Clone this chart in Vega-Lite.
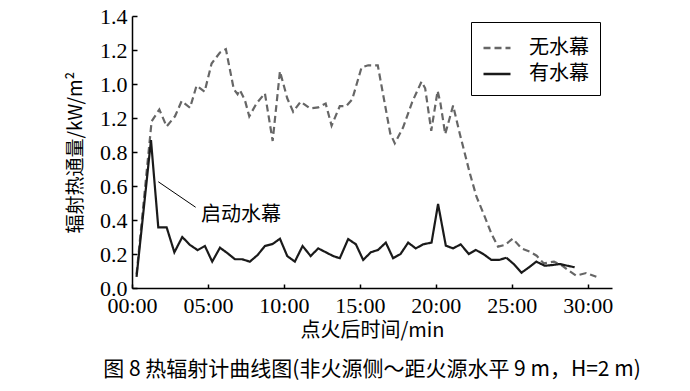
{
  "$schema": "https://vega.github.io/schema/vega-lite/v6.json",
  "width": 480,
  "height": 272,
  "autosize": "none",
  "padding": {"left": 132, "top": 16, "right": 78, "bottom": 103},
  "background": "white",
  "config": {
    "view": {"stroke": null},
    "font": "'Liberation Serif', 'DejaVu Serif', serif",
    "axis": {"grid": false, "domainColor": "black", "tickColor": "black", "labelColor": "black", "titleColor": "black", "titleFontWeight": "normal"}
  },
  "title": {
    "text": "图 8   热辐射计曲线图(非火源侧～距火源水平 9 m，H=2 m)",
    "orient": "bottom",
    "anchor": "middle",
    "font": "Noto Sans CJK SC",
    "fontSize": 21,
    "fontWeight": "normal",
    "color": "black",
    "offset": 19
  },
  "encoding": {
    "x": {
      "field": "t",
      "type": "quantitative",
      "scale": {"domain": [0, 31.6], "nice": false, "zero": false},
      "axis": {
        "values": [0, 5, 10, 15, 20, 25, 30],
        "labelExpr": "(datum.value < 10 ? '0' : '') + datum.value + ':00'",
        "title": "点火后时间/min",
        "titleFont": "Noto Sans CJK SC",
        "titleFontSize": 20,
        "titlePadding": 4,
        "labelFont": "'Liberation Serif', 'DejaVu Serif', serif",
        "labelFontSize": 22,
        "tickSize": -4,
        "labelPadding": 11,
        "domainWidth": 1.5,
        "tickWidth": 1.5,
        "labelFlush": false
      }
    },
    "y": {
      "field": "v",
      "type": "quantitative",
      "scale": {"domain": [0, 1.6], "nice": false},
      "axis": {
        "values": [0, 0.2, 0.4, 0.6, 0.8, 1.0, 1.2, 1.4, 1.6],
        "labelExpr": "datum.value > 1.55 ? '1.4' : datum.value > 1.35 ? '1.2' : datum.value > 1.15 ? '1.0' : datum.value > 0.95 ? '1.2' : format(datum.value, '.1f')",
        "title": "辐射热通量/kW/m²",
        "titleFont": "Noto Sans CJK SC",
        "titleFontSize": 19,
        "titlePadding": 14,
        "labelFont": "'Liberation Serif', 'DejaVu Serif', serif",
        "labelFontSize": 22,
        "tickSize": -5,
        "labelPadding": 10,
        "domainWidth": 1.5,
        "tickWidth": 1.5,
        "labelFlush": false
      }
    }
  },
  "layer": [
    {
      "data": {
        "values": [
          {"series": "无水幕", "t": 0.3, "v": 0.08},
          {"series": "无水幕", "t": 1.29, "v": 0.98},
          {"series": "无水幕", "t": 1.8, "v": 1.05},
          {"series": "无水幕", "t": 2.28, "v": 0.95},
          {"series": "无水幕", "t": 2.83, "v": 1.01},
          {"series": "无水幕", "t": 3.27, "v": 1.1},
          {"series": "无水幕", "t": 3.82, "v": 1.06},
          {"series": "无水幕", "t": 4.25, "v": 1.19},
          {"series": "无水幕", "t": 4.78, "v": 1.155},
          {"series": "无水幕", "t": 5.24, "v": 1.32},
          {"series": "无水幕", "t": 5.79, "v": 1.385},
          {"series": "无水幕", "t": 6.18, "v": 1.405},
          {"series": "无水幕", "t": 6.7, "v": 1.17},
          {"series": "无水幕", "t": 6.95, "v": 1.14},
          {"series": "无水幕", "t": 7.1, "v": 1.165},
          {"series": "无水幕", "t": 7.43, "v": 1.106},
          {"series": "无水幕", "t": 7.72, "v": 1.01},
          {"series": "无水幕", "t": 8.2, "v": 1.086},
          {"series": "无水幕", "t": 8.75, "v": 1.145},
          {"series": "无水幕", "t": 9.26, "v": 0.865},
          {"series": "无水幕", "t": 9.74, "v": 1.275},
          {"series": "无水幕", "t": 10.22, "v": 1.116},
          {"series": "无水幕", "t": 10.61, "v": 1.037},
          {"series": "无水幕", "t": 11.1, "v": 1.096},
          {"series": "无水幕", "t": 11.71, "v": 1.057},
          {"series": "无水幕", "t": 12.26, "v": 1.062},
          {"series": "无水幕", "t": 12.75, "v": 1.085},
          {"series": "无水幕", "t": 13.14, "v": 0.955},
          {"series": "无水幕", "t": 13.68, "v": 1.07},
          {"series": "无水幕", "t": 14.1, "v": 1.07},
          {"series": "无水幕", "t": 14.5, "v": 1.11},
          {"series": "无水幕", "t": 15.11, "v": 1.297},
          {"series": "无水幕", "t": 15.55, "v": 1.31},
          {"series": "无水幕", "t": 16.18, "v": 1.31},
          {"series": "无水幕", "t": 17.0, "v": 0.91},
          {"series": "无水幕", "t": 17.3, "v": 0.851},
          {"series": "无水幕", "t": 17.85, "v": 0.945},
          {"series": "无水幕", "t": 18.45, "v": 1.095},
          {"series": "无水幕", "t": 19.06, "v": 1.214},
          {"series": "无水幕", "t": 19.3, "v": 1.175},
          {"series": "无水幕", "t": 19.7, "v": 0.925},
          {"series": "无水幕", "t": 20.12, "v": 1.16},
          {"series": "无水幕", "t": 20.3, "v": 1.09},
          {"series": "无水幕", "t": 20.62, "v": 0.905},
          {"series": "无水幕", "t": 21.14, "v": 1.073},
          {"series": "无水幕", "t": 21.6, "v": 0.9},
          {"series": "无水幕", "t": 22.24, "v": 0.675},
          {"series": "无水幕", "t": 22.68, "v": 0.537},
          {"series": "无水幕", "t": 23.22, "v": 0.42},
          {"series": "无水幕", "t": 23.66, "v": 0.32},
          {"series": "无水幕", "t": 24.1, "v": 0.243},
          {"series": "无水幕", "t": 24.54, "v": 0.253},
          {"series": "无水幕", "t": 25.07, "v": 0.29},
          {"series": "无水幕", "t": 25.64, "v": 0.233},
          {"series": "无水幕", "t": 26.18, "v": 0.214},
          {"series": "无水幕", "t": 26.64, "v": 0.19},
          {"series": "无水幕", "t": 27.1, "v": 0.145},
          {"series": "无水幕", "t": 27.78, "v": 0.155},
          {"series": "无水幕", "t": 28.27, "v": 0.135},
          {"series": "无水幕", "t": 28.7, "v": 0.106},
          {"series": "无水幕", "t": 29.23, "v": 0.073},
          {"series": "无水幕", "t": 29.9, "v": 0.088},
          {"series": "无水幕", "t": 30.57, "v": 0.066},
          {"series": "有水幕", "t": 0.3, "v": 0.066},
          {"series": "有水幕", "t": 1.25, "v": 0.87},
          {"series": "有水幕", "t": 1.73, "v": 0.357},
          {"series": "有水幕", "t": 2.28, "v": 0.357},
          {"series": "有水幕", "t": 2.79, "v": 0.21},
          {"series": "有水幕", "t": 3.31, "v": 0.3},
          {"series": "有水幕", "t": 3.82, "v": 0.253},
          {"series": "有水幕", "t": 4.32, "v": 0.223},
          {"series": "有水幕", "t": 4.8, "v": 0.247},
          {"series": "有水幕", "t": 5.28, "v": 0.155},
          {"series": "有水幕", "t": 5.79, "v": 0.237},
          {"series": "有水幕", "t": 6.3, "v": 0.204},
          {"series": "有水幕", "t": 6.78, "v": 0.169},
          {"series": "有水幕", "t": 7.26, "v": 0.169},
          {"series": "有水幕", "t": 7.76, "v": 0.155},
          {"series": "有水幕", "t": 8.27, "v": 0.194},
          {"series": "有水幕", "t": 8.75, "v": 0.247},
          {"series": "有水幕", "t": 9.26, "v": 0.259},
          {"series": "有水幕", "t": 9.74, "v": 0.29},
          {"series": "有水幕", "t": 10.22, "v": 0.188},
          {"series": "有水幕", "t": 10.72, "v": 0.155},
          {"series": "有水幕", "t": 11.23, "v": 0.247},
          {"series": "有水幕", "t": 11.76, "v": 0.188},
          {"series": "有水幕", "t": 12.26, "v": 0.233},
          {"series": "有水幕", "t": 12.76, "v": 0.21},
          {"series": "有水幕", "t": 13.24, "v": 0.188},
          {"series": "有水幕", "t": 13.68, "v": 0.175},
          {"series": "有水幕", "t": 14.23, "v": 0.288},
          {"series": "有水幕", "t": 14.74, "v": 0.257},
          {"series": "有水幕", "t": 15.22, "v": 0.165},
          {"series": "有水幕", "t": 15.72, "v": 0.21},
          {"series": "有水幕", "t": 16.2, "v": 0.224},
          {"series": "有水幕", "t": 16.71, "v": 0.267},
          {"series": "有水幕", "t": 17.19, "v": 0.175},
          {"series": "有水幕", "t": 17.68, "v": 0.2},
          {"series": "有水幕", "t": 18.18, "v": 0.267},
          {"series": "有水幕", "t": 18.68, "v": 0.233},
          {"series": "有水幕", "t": 19.17, "v": 0.257},
          {"series": "有水幕", "t": 19.72, "v": 0.267},
          {"series": "有水幕", "t": 20.15, "v": 0.494},
          {"series": "有水幕", "t": 20.66, "v": 0.249},
          {"series": "有水幕", "t": 21.14, "v": 0.233},
          {"series": "有水幕", "t": 21.64, "v": 0.257},
          {"series": "有水幕", "t": 22.17, "v": 0.2},
          {"series": "有水幕", "t": 22.63, "v": 0.224},
          {"series": "有水幕", "t": 23.16, "v": 0.198},
          {"series": "有水幕", "t": 23.66, "v": 0.165},
          {"series": "有水幕", "t": 24.16, "v": 0.165},
          {"series": "有水幕", "t": 24.65, "v": 0.178},
          {"series": "有水幕", "t": 25.13, "v": 0.141},
          {"series": "有水幕", "t": 25.64, "v": 0.09},
          {"series": "有水幕", "t": 26.14, "v": 0.122},
          {"series": "有水幕", "t": 26.62, "v": 0.155},
          {"series": "有水幕", "t": 27.17, "v": 0.131},
          {"series": "有水幕", "t": 27.68, "v": 0.135},
          {"series": "有水幕", "t": 28.16, "v": 0.141},
          {"series": "有水幕", "t": 28.66, "v": 0.131},
          {"series": "有水幕", "t": 29.14, "v": 0.122}
        ]
      },
      "mark": {"type": "line", "strokeWidth": 2.2, "strokeJoin": "miter"},
      "encoding": {
        "color": {
          "field": "series",
          "type": "nominal",
          "scale": {"domain": ["无水幕", "有水幕"], "range": ["#666666", "#1a1a1a"]},
          "legend": {
            "title": null,
            "orient": "none",
            "legendX": 339,
            "legendY": 6,
            "padding": 11,
            "strokeColor": "black",
            "fillColor": "white",
            "symbolType": "stroke",
            "symbolSize": 729,
            "symbolStrokeWidth": 2.5,
            "labelFont": "Noto Sans CJK SC",
            "labelFontSize": 20,
            "labelColor": "black",
            "labelOffset": 17,
            "rowPadding": 1
          }
        },
        "strokeDash": {
          "field": "series",
          "type": "nominal",
          "scale": {"domain": ["无水幕", "有水幕"], "range": [[7, 4], [1, 0]]},
          "legend": {
            "title": null,
            "orient": "none",
            "legendX": 339,
            "legendY": 6,
            "padding": 11,
            "strokeColor": "black",
            "fillColor": "white",
            "symbolType": "stroke",
            "symbolSize": 729,
            "symbolStrokeWidth": 2.5,
            "labelFont": "Noto Sans CJK SC",
            "labelFontSize": 20,
            "labelColor": "black",
            "labelOffset": 17,
            "rowPadding": 1
          }
        }
      }
    },
    {
      "data": {"values": [{"t": 1.73, "v": 0.625, "t2": 4.19, "v2": 0.475}]},
      "mark": {"type": "rule", "color": "black", "strokeWidth": 1},
      "encoding": {
        "x2": {"field": "t2"},
        "y2": {"field": "v2"}
      }
    },
    {
      "data": {"values": [{"t": 4.55, "v": 0.43, "label": "启动水幕"}]},
      "mark": {"type": "text", "align": "left", "baseline": "middle", "font": "Noto Sans CJK SC", "fontSize": 20, "color": "black"},
      "encoding": {
        "text": {"field": "label"}
      }
    }
  ]
}
